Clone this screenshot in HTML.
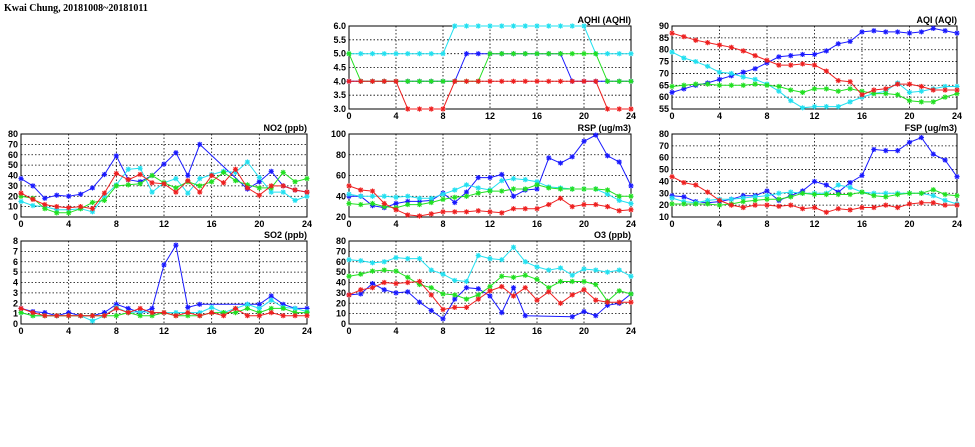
<!DOCTYPE html>
<html><head><meta charset="utf-8"><style>
html,body{margin:0;padding:0;background:#fff;}
svg{display:block;}
text{font-family:"Liberation Sans",sans-serif;font-size:9px;fill:#000;font-weight:bold;}
</style></head><body>
<svg id="c" width="975" height="447" viewBox="0 0 975 447">
<text x="4" y="11" style="font-size:10px;font-family:'Liberation Serif',serif">Kwai Chung, 20181008~20181011</text>
</svg>
<script>
const hours = [0,1,2,3,4,5,6,7,8,9,10,11,12,13,14,15,16,17,18,19,20,21,22,23,24];
const xTicks = [0,4,8,12,16,20,24];
const seriesColors = ['#1a1aff','#22e0f0','#22e022','#ee2020'];
const seriesNames = ['blue','cyan','green','red'];

const no2Blue = [37,30,18,21,20,22,28,41,59,36,34,40,51,62,40,70,null,null,null,27,34,44,30,26,24];
const no2Cyan = [15,11,10,7,7,8,5,20,31,46,47,24,33,37,23,37,41,44,43,53,38,24,24,16,20];
const no2Green = [20,18,8,4,4,8,14,16,30,31,32,40,33,28,34,30,34,43,35,31,28,28,43,34,37];
const no2Red = [23,17,12,10,9,10,8,23,42,36,41,33,32,24,35,24,40,33,46,28,21,30,30,26,24];
const no2Ticks = [0,10,20,30,40,50,60,70,80];

const aqhiBlue = [4,4,4,4,4,4,4,4,4,4,5,5,5,5,5,5,5,5,5,4,4,4,4,4,4];
const aqhiCyan = [5,5,5,5,5,5,5,5,5,6,6,6,6,6,6,6,6,6,6,6,6,5,5,5,5];
const aqhiGreen = [5,4,4,4,4,4,4,4,4,4,4,4,5,5,5,5,5,5,5,5,5,5,4,4,4];
const aqhiRed = [4,4,4,4,4,3,3,3,3,4,4,4,4,4,4,4,4,4,4,4,4,4,3,3,3];
const aqhiTicks = ['3.0','3.5','4.0','4.5','5.0','5.5','6.0'];

const aqiBlue = [62,63.5,65,66,67.5,69,70.5,72,74.5,77,77.5,78,78,79.5,82.5,83.5,87.5,88,87.5,87.5,87,87.5,89,88,87];
const aqiCyan = [79,76.5,75,73,70.5,70,68.5,67.5,65.5,62.5,58.5,55.5,56,56,56,58,60,61.5,62.5,66,62,62.5,63.5,64.5,64.5];
const aqiGreen = [64.5,65,65.5,65.5,65,65,65,65.5,65,64.5,63,62,63.5,63.5,62.5,63.5,62.5,61.5,61.5,61,58.5,58,58,60,61.5];
const aqiRed = [87,85.5,84,83,82,81,79.5,77.5,75.5,73.5,73.5,74,73.5,71,67,66.5,61,63,63.5,65.5,65.5,64.5,63,63,63];
const aqiTicks = [55,60,65,70,75,80,85,90];

const rspBlue = [40,40,31,29,33,35,35,36,43,34,44,58,58,61,40,46,47,77,72,78,93,99,79,73,50];
const rspCyan = [42,40,40,40,39,40,38,38,42,46,51,48,46,55,57,56,54,49,48,47,47,47,42,36,33];
const rspGreen = [33,32,33,30,29,32,32,34,37,39,40,43,45,45,47,47,51,48,47,47,47,47,46,40,40];
const rspRed = [50,46,45,33,27,22,21,23,25,25,25,26,25,24,28,28,28,32,38,30,32,32,30,26,27];
const rspTicks = [20,40,60,80,100];

const fspBlue = [28,27,23,22,23,25,28,28,32,24,28,32,40,37,31,39,45,67,66,66,73,77,63,58,44];
const fspCyan = [26,23,22,24,25,25,26,27,28,30,31,30,30,30,37,35,31,30,30,30,30,30,28,24,21];
const fspGreen = [21,21,21,21,20,21,23,24,25,25,27,30,29,29,29,29,31,28,27,29,30,30,33,29,28];
const fspRed = [44,39,37,31,24,20,18,20,20,19,20,17,18,14,17,16,18,18,20,18,21,22,22,20,20];
const fspTicks = [10,20,30,40,50,60,70,80];

const so2Blue = [1.5,1.2,1.1,0.8,1.1,0.8,0.8,1.1,1.9,1.5,1.1,1.5,5.7,7.6,1.6,1.9,null,null,null,1.9,1.9,2.7,1.9,1.5,1.5];
const so2Cyan = [1.1,0.8,0.8,0.8,0.8,0.8,0.3,0.8,1.6,1.1,1.2,1.1,1.1,1.1,1.1,1.1,1.6,1.1,1.5,1.9,1.5,2.3,1.6,1.5,1.2];
const so2Green = [1.1,0.8,0.8,0.8,0.8,0.8,0.8,0.8,0.8,1.1,0.8,0.8,1.1,0.8,0.8,0.8,1.1,1.1,1.1,1.5,1.1,1.5,1.5,1.1,1.1];
const so2Red = [1.5,1.1,0.8,0.8,0.8,0.8,0.8,0.8,1.5,1.1,1.5,1.1,1.1,0.8,1.1,0.8,1.1,0.8,1.5,0.8,0.8,1.1,0.8,0.8,0.8];
const so2Ticks = [0,1,2,3,4,5,6,7,8];

const o3Blue = [28,29,39,33,30,31,21,13,5,24,35,34,27,11,35,8,null,null,null,7,12,8,18,20,29];
const o3Cyan = [62,61,59,60,64,63,63,52,48,42,41,66,63,62,74,60,55,52,54,47,53,52,50,52,46];
const o3Green = [46,48,51,52,51,45,38,35,29,28,24,28,36,46,45,47,43,35,41,41,41,38,22,32,29];
const o3Red = [28,33,35,40,39,40,41,28,14,16,16,24,32,36,27,35,23,31,20,28,33,23,21,21,21];
const o3Ticks = [0,10,20,30,40,50,60,70,80];

const svg = document.getElementById('c');
const NS = 'http://www.w3.org/2000/svg';
function mk(tag, attrs, parent){
  const e = document.createElementNS(NS, tag);
  for (const k in attrs) e.setAttribute(k, attrs[k]);
  (parent||svg).appendChild(e);
  return e;
}

const panels = [
  {key:'aqhi', title:'AQHI (AQHI)', x0:349, x1:631, y0:26, y1:109, ticks:aqhiTicks, series:[aqhiBlue,aqhiCyan,aqhiGreen,aqhiRed]},
  {key:'aqi', title:'AQI (AQI)', x0:672, x1:957, y0:26, y1:109, ticks:aqiTicks, series:[aqiBlue,aqiCyan,aqiGreen,aqiRed]},
  {key:'no2', title:'NO2 (ppb)', x0:21, x1:307, y0:134, y1:217, ticks:no2Ticks, series:[no2Blue,no2Cyan,no2Green,no2Red]},
  {key:'rsp', title:'RSP (ug/m3)', x0:349, x1:631, y0:134, y1:217, ticks:rspTicks, series:[rspBlue,rspCyan,rspGreen,rspRed]},
  {key:'fsp', title:'FSP (ug/m3)', x0:672, x1:957, y0:134, y1:217, ticks:fspTicks, series:[fspBlue,fspCyan,fspGreen,fspRed]},
  {key:'so2', title:'SO2 (ppb)', x0:21, x1:307, y0:241, y1:324, ticks:so2Ticks, series:[so2Blue,so2Cyan,so2Green,so2Red]},
  {key:'o3', title:'O3 (ppb)', x0:349, x1:631, y0:241, y1:324, ticks:o3Ticks, series:[o3Blue,o3Cyan,o3Green,o3Red]}
];

panels.forEach(p => {
  const g = mk('g', {});
  
  
  const yMin = parseFloat(p.ticks[0]), yMax = parseFloat(p.ticks[p.ticks.length-1]);
  const X = h => p.x0 + (h - 0) / 24 * (p.x1 - p.x0);
  const Y = v => p.y1 - (v - yMin) / (yMax - yMin) * (p.y1 - p.y0);
  p.ticks.forEach(t => {
    const y = Y(parseFloat(t));
    const l = mk('line', {x1:p.x0, x2:p.x1, y1:y, y2:y, stroke:'#000', 'stroke-width':0.8, 'stroke-dasharray':'1.5,2'}, g);
    
    
    const tx = mk('text', {x:p.x0-3, y:y+3, 'text-anchor':'end'}, g);
    tx.textContent = t;
    
    
  });
  xTicks.forEach(t => {
    const x = X(t);
    const l = mk('line', {x1:x, x2:x, y1:p.y0, y2:p.y1, stroke:'#000', 'stroke-width':0.8, 'stroke-dasharray':'1.5,2'}, g);
    
    
    const tx = mk('text', {x:x, y:p.y1+10, 'text-anchor':'middle'}, g);
    tx.textContent = t;
    
    
  });
  const frame = mk('rect', {x:p.x0, y:p.y0, width:p.x1-p.x0, height:p.y1-p.y0, fill:'none', stroke:'#000', 'stroke-width':1}, g);
  
  
  const title = mk('text', {x:p.x1, y:p.y0-3, 'text-anchor':'end'}, g);
  title.textContent = p.title;
  
  
  p.series.forEach((vals, si) => {
    const col = seriesColors[si];
    const pts = [];
    hours.forEach((h, i) => { if (vals[i] !== null && vals[i] !== undefined) pts.push([X(h), Y(vals[i])]); });
    const line = mk('polyline', {points: pts.map(q => q[0].toFixed(1)+','+q[1].toFixed(1)).join(' '), fill:'none', stroke:col, 'stroke-width':1}, g);
    
    
    pts.forEach(q => {
      const s = 2.6;
      const m = mk('path', {d:`M${q[0]-s},${q[1]}H${q[0]+s}M${q[0]},${q[1]-s}V${q[1]+s}M${q[0]-s*0.75},${q[1]-s*0.75}L${q[0]+s*0.75},${q[1]+s*0.75}M${q[0]-s*0.75},${q[1]+s*0.75}L${q[0]+s*0.75},${q[1]-s*0.75}`, stroke:col, 'stroke-width':1.1, fill:'none'}, g);
      
      
    });
  });
});
</script>
</body></html>
